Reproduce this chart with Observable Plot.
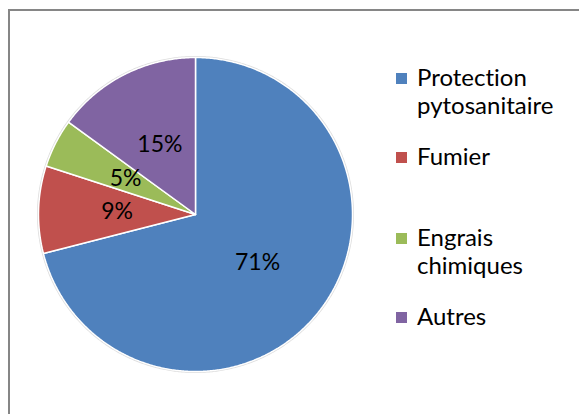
<!DOCTYPE html>
<html>
<head>
<meta charset="utf-8">
<script src="https://cdn.jsdelivr.net/npm/d3@7"></script>
<script src="https://cdn.jsdelivr.net/npm/@observablehq/plot@0.6"></script>
<style>
  html, body { margin: 0; padding: 0; background: #fff; }
  #wrap { position: relative; width: 579px; height: 414px; overflow: hidden; font-family: Lato, "Noto Sans", sans-serif; font-variant-ligatures: none; }
  #frame { position: absolute; left: 8px; top: 9px; width: 700px; height: 600px; border: 2px solid #868686; box-sizing: border-box; }
  #chart { position: absolute; left: 0; top: 0; }
  .leg { position: absolute; left: 396px; font-size: 24px; line-height: 27.5px; color: #000; }
  .leg .sw { position: absolute; left: 0; width: 11px; height: 11px; }
  .leg .tx { position: absolute; left: 21px; white-space: nowrap; }
</style>
</head>
<body>
<div id="wrap">
  <div id="frame"></div>
  <div id="chart"></div>
  <div id="legend"></div>
</div>
<script>
// ---- data ----
const categories = ["Protection pytosanitaire", "Fumier", "Engrais chimiques", "Autres"];
const legendLines = [["Protection", "pytosanitaire"], ["Fumier"], ["Engrais", "chimiques"], ["Autres"]];
const values = [71, 9, 5, 15];
const labels = ["71%", "9%", "5%", "15%"];
const colors = ["#4F81BD", "#C0504D", "#9BBB59", "#8064A2"];

// ---- layout: label distance from centre, as a fraction of radius ----
const labelRadius = 0.5;

const arcs = d3.pie().sort(null).value(d => d)(values);

const slicePts = [];
arcs.forEach((a, i) => {
  const cat = categories[i];
  slicePts.push({cat, x: 0, y: 0});
  const n = Math.max(2, Math.ceil((a.endAngle - a.startAngle) / (Math.PI / 360)));
  for (let k = 0; k <= n; k++) {
    const t = a.startAngle + (a.endAngle - a.startAngle) * k / n;
    slicePts.push({cat, x: Math.sin(t), y: Math.cos(t)});
  }
  slicePts.push({cat, x: 0, y: 0});
});

const labelPts = arcs.map((a, i) => {
  const m = (a.startAngle + a.endAngle) / 2;
  return {cat: categories[i], text: labels[i], x: Math.sin(m) * labelRadius, y: Math.cos(m) * labelRadius};
});

const outline = d3.range(0, 721).map(k => {
  const t = k / 720 * 2 * Math.PI;
  return {x: Math.sin(t), y: Math.cos(t)};
});

const plot = Plot.plot({
  width: 579,
  height: 414,
  marginLeft: 38,
  marginRight: 227,
  marginTop: 57,
  marginBottom: 43,
  x: {domain: [-1, 1], axis: null},
  y: {domain: [-1, 1], axis: null},
  color: {domain: categories, range: colors},
  style: {background: "transparent", fontFamily: "Lato, 'Noto Sans', sans-serif"},
  marks: [
    Plot.line(outline, {x: "x", y: "y", stroke: "#bbb", strokeWidth: 3, strokeOpacity: 0.5, curve: "linear"}),
    Plot.line(slicePts, {x: "x", y: "y", z: "cat", fill: "cat", stroke: "white", strokeWidth: 1.5, strokeLinejoin: "miter", curve: "linear"}),
    Plot.text(labelPts, {x: "x", y: "y", text: "text", fontSize: 23, fill: "black", textAnchor: "middle", lineAnchor: "middle"})
  ]
});
document.getElementById("chart").appendChild(plot);

// ---- legend ----
const legendTops = [63, 142, 223, 302];
const leg = document.getElementById("legend");
categories.forEach((c, i) => {
  const item = document.createElement("div");
  item.className = "leg";
  item.style.top = legendTops[i] + "px";
  const sw = document.createElement("div");
  sw.className = "sw";
  sw.style.background = colors[i];
  sw.style.top = "10px";
  const tx = document.createElement("div");
  tx.className = "tx";
  tx.innerHTML = legendLines[i].join("<br>");
  item.appendChild(sw);
  item.appendChild(tx);
  leg.appendChild(item);
});
</script>
</body>
</html>
